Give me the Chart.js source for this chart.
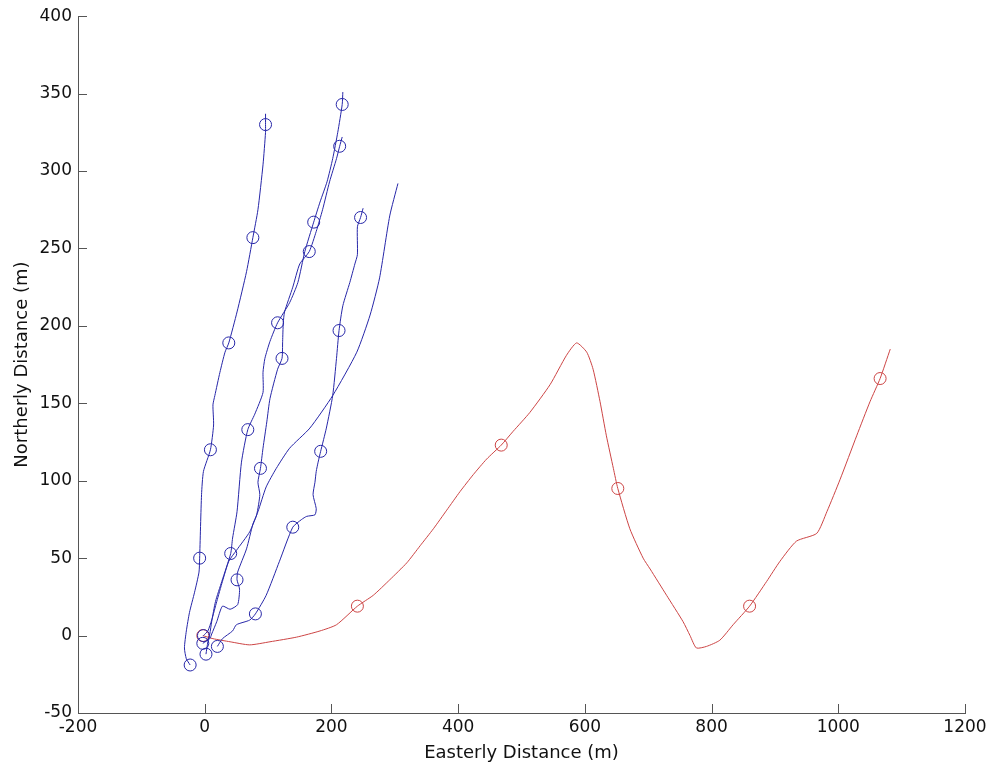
<!DOCTYPE html>
<html>
<head>
<meta charset="utf-8">
<title>Tracks</title>
<script src="https://cdn.jsdelivr.net/npm/chart.js"></script>
<style>
  html, body { margin: 0; padding: 0; background: #fff; }
  #wrap { width: 994px; height: 773px; }
</style>
</head>
<body>
<div id="wrap"><canvas id="chart" width="994" height="773"></canvas></div>
<script>
// Axis ranges and ticks
const xTicks = [-200, 0, 200, 400, 600, 800, 1000, 1200];
const yTicks = [-50, 0, 50, 100, 150, 200, 250, 300, 350, 400];

// Blue tracks, [easting, northing] in metres
const trackA = [[-23,-19],[-29,-15],[-32,-8],[-29,3],[-24,15],[-16,28],[-9,41],[-8,50],[-5,91],[-2,106],[9,120],[14,136],[13,149],[16,155],[24,170],[32,183],[38,189],[51,209],[66,235],[76,257],[84,275],[92,304],[96,325],[96,330],[96,337]];
const marksA = [[-23,-19],[-8,50],[9,120],[38,189],[76,257],[96,330]];

const trackB = [[2,-12],[5,-4],[8,1],[11,9],[17,22],[27,35],[41,53],[44,63],[51,80],[58,112],[68,133],[79,143],[92,157],[92,170],[95,179],[103,190],[115,202],[134,215],[147,228],[158,248],[172,267],[182,280],[193,293],[202,308],[210,325],[217,343],[218,351]];
const marksB = [[2,-12],[41,53],[68,133],[115,202],[172,267],[217,343]];

const trackC = [[-3,-5],[8,-2],[11,1],[19,9],[28,19],[40,17],[52,20],[55,30],[51,36],[52,41],[66,56],[76,72],[82,78],[87,91],[84,99],[88,108],[92,121],[98,138],[103,153],[115,172],[122,179],[123,190],[124,202],[126,209],[139,225],[150,240],[165,248],[176,261],[186,275],[197,293],[208,308],[213,316],[217,322]];
const marksC = [[-3,-5],[51,36],[88,108],[122,179],[165,248],[213,316]];

const trackD = [[20,-7],[28,-2],[44,3],[50,7],[71,10],[80,14],[97,26],[118,48],[139,70],[153,75],[161,77],[174,78],[176,82],[171,91],[174,99],[176,106],[179,112],[183,119],[192,134],[202,155],[208,179],[212,197],[218,213],[229,228],[237,240],[241,246],[241,264],[246,270],[250,276]];
const marksD = [[20,-7],[80,14],[139,70],[183,119],[212,197],[246,270]];

const trackE = [[-2,0],[5,3],[11,10],[19,22],[28,35],[38,48],[50,55],[71,67],[84,80],[97,96],[113,108],[134,121],[166,134],[202,155],[240,183],[261,207],[276,231],[292,271],[305,292]];
const marksE = [[-2,0]];

// Red track
const trackRed = [[-3,0],[13,-2],[40,-4],[71,-6],[103,-4],[145,-1],[182,3],[208,7],[241,19],[266,26],[292,36],[319,47],[340,58],[361,69],[382,81],[403,93],[424,104],[445,114],[468,123],[487,132],[513,144],[545,162],[571,181],[587,189],[603,183],[613,172],[624,151],[634,129],[645,108],[652,95],[671,69],[692,50],[703,43],[729,26],[755,9],[766,0],[776,-8],[792,-7],[813,-3],[834,7],[860,19],[887,35],[908,48],[934,61],[966,66],[982,80],[1003,101],[1029,129],[1050,151],[1066,166],[1082,185]];
const marksRed = [[-3,0],[241,19],[468,123],[652,95],[860,19],[1066,166]];

const blue = '#2626a8';
const red = '#cc4444';
const axisColor = '#555';
const textColor = '#111';
const fontFamily = '"DejaVu Sans", "Liberation Sans", Arial, sans-serif';

const toPoints = pairs => pairs.map(p => ({x: p[0], y: p[1]}));

function lineSet(pairs, color) {
  return {
    data: toPoints(pairs),
    showLine: true,
    borderColor: color,
    borderWidth: 1,
    pointRadius: 0,
    tension: 0.2,
    fill: false
  };
}

function markSet(pairs, color) {
  return {
    data: toPoints(pairs),
    showLine: false,
    borderColor: color,
    backgroundColor: 'rgba(0,0,0,0)',
    borderWidth: 1,
    pointRadius: 6,
    pointStyle: 'circle'
  };
}

// MATLAB style ticks pointing into the plot
const inwardTicks = {
  id: 'inwardTicks',
  afterDraw(chart) {
    const {ctx, chartArea, scales} = chart;
    ctx.save();
    ctx.strokeStyle = axisColor;
    ctx.lineWidth = 1;
    xTicks.forEach(v => {
      const px = Math.round(scales.x.getPixelForValue(v)) + 0.5;
      ctx.beginPath();
      ctx.moveTo(px, chartArea.bottom);
      ctx.lineTo(px, chartArea.bottom - 9);
      ctx.stroke();
    });
    yTicks.forEach(v => {
      const py = Math.round(scales.y.getPixelForValue(v)) + 0.5;
      ctx.beginPath();
      ctx.moveTo(chartArea.left, py);
      ctx.lineTo(chartArea.left + 9, py);
      ctx.stroke();
    });
    ctx.restore();
  }
};

const datasets = [
  lineSet(trackA, blue), markSet(marksA, blue),
  lineSet(trackB, blue), markSet(marksB, blue),
  lineSet(trackC, blue), markSet(marksC, blue),
  lineSet(trackD, blue), markSet(marksD, blue),
  lineSet(trackE, blue), markSet(marksE, blue),
  lineSet(trackRed, red), markSet(marksRed, red)
];

new Chart(document.getElementById('chart'), {
  type: 'scatter',
  data: {datasets},
  plugins: [inwardTicks],
  options: {
    responsive: false,
    animation: false,
    devicePixelRatio: 1,
    layout: {padding: {top: 15, right: 29, left: 0, bottom: 0}},
    plugins: {legend: {display: false}, tooltip: {enabled: false}},
    scales: {
      x: {
        type: 'linear',
        min: -200,
        max: 1200,
        afterBuildTicks: scale => { scale.ticks = xTicks.map(v => ({value: v})); },
        afterFit: scale => { scale.height = 60; },
        ticks: {
          color: textColor,
          font: {family: fontFamily, size: 17},
          padding: 4,
          maxRotation: 0,
          autoSkip: false,
          callback: v => String(v)
        },
        grid: {display: false, drawTicks: false},
        border: {display: true, color: axisColor},
        title: {
          display: true,
          text: 'Easterly Distance (m)',
          color: textColor,
          font: {family: fontFamily, size: 18},
          padding: {top: 0, bottom: 9}
        }
      },
      y: {
        type: 'linear',
        min: -50,
        max: 400,
        afterBuildTicks: scale => { scale.ticks = yTicks.map(v => ({value: v})); },
        afterFit: scale => { scale.width = 78; },
        ticks: {
          color: textColor,
          font: {family: fontFamily, size: 17},
          padding: 6,
          autoSkip: false,
          callback: v => String(v)
        },
        grid: {display: false, drawTicks: false},
        border: {display: true, color: axisColor},
        title: {
          display: true,
          text: 'Northerly Distance (m)',
          color: textColor,
          font: {family: fontFamily, size: 18},
          padding: {top: 12, bottom: 0}
        }
      }
    }
  }
});
</script>
</body>
</html>
